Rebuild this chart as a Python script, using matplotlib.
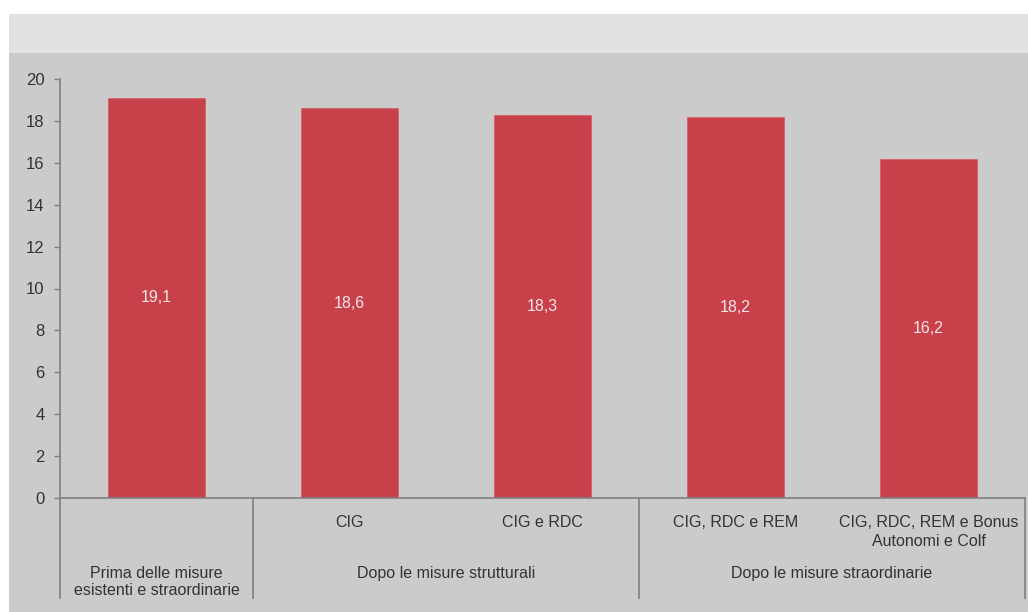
import matplotlib
matplotlib.use("Agg")
import matplotlib.pyplot as plt
from matplotlib.patches import Rectangle
from matplotlib.transforms import blended_transform_factory

plt.rcParams['font.family'] = ['Liberation Sans', 'DejaVu Sans']

# Data
values = [19.1, 18.6, 18.3, 18.2, 16.2]
value_labels = ["19,1", "18,6", "18,3", "18,2", "16,2"]
categories = ["", "CIG", "CIG e RDC", "CIG, RDC e REM",
              "CIG, RDC, REM e Bonus\nAutonomi e Colf"]
groups = ["Prima delle misure\nesistenti e straordinarie",
          "Dopo le misure strutturali",
          "Dopo le misure straordinarie"]
group_spans = [(0, 0), (1, 2), (3, 4)]
yticks = [0, 2, 4, 6, 8, 10, 12, 14, 16, 18, 20]

W, H = 1028, 612
fig = plt.figure(figsize=(W / 100, H / 100), dpi=100)
fig.patch.set_facecolor('white')

# Background panels
fig.patches.append(Rectangle((9 / W, 0), 1 - 9 / W, (H - 53) / H,
                             transform=fig.transFigure, facecolor='#cbcbcb',
                             edgecolor='none', zorder=-10))
fig.patches.append(Rectangle((9 / W, (H - 53) / H), 1 - 9 / W, 39 / H,
                             transform=fig.transFigure, facecolor='#e1e1e1',
                             edgecolor='none', zorder=-10))

ax_left, ax_right = 60 / W, 1025 / W
ax_bottom, ax_top = (H - 498) / H, (H - 79) / H
ax = fig.add_axes([ax_left, ax_bottom, ax_right - ax_left, ax_top - ax_bottom])
ax.set_facecolor('none')
ax.set_zorder(1)

x = list(range(len(values)))
bars = ax.bar(x, values, width=0.5, color='#c8404a', edgecolor='#d4606a',
              linewidth=0.6, zorder=2)

for xi, v, lab in zip(x, values, value_labels):
    ax.text(xi, v / 2, lab, ha='center', va='center', color='#f5e6e8',
            fontsize=11.5, zorder=3)

ax.set_xlim(-0.5, len(values) - 0.5)
ax.set_ylim(0, 20)
ax.set_yticks(yticks)
ax.set_yticklabels([str(t) for t in yticks], fontsize=12, color='#333333')
ax.tick_params(axis='y', direction='out', length=4, width=1, color='#808080', pad=7)
ax.tick_params(axis='x', length=0, labelbottom=False)

for s in ['top', 'right']:
    ax.spines[s].set_visible(False)
for s in ['left', 'bottom']:
    ax.spines[s].set_color('#808080')
    ax.spines[s].set_linewidth(1.2)

trans = blended_transform_factory(ax.transData, ax.transAxes)
axis_h_px = 498 - 79


def ypix(p):
    return (498 - p) / axis_h_px


# Group separator lines below the axis
for b in [-0.5, 0.5, 2.5, 4.5]:
    ax.plot([b, b], [0, ypix(598)], transform=trans, color='#808080',
            linewidth=1.2, clip_on=False, zorder=1)

# Category labels
for xi, c in zip(x, categories):
    if c:
        ax.text(xi, ypix(515), c, transform=trans, ha='center', va='top',
                fontsize=11.5, color='#333333', linespacing=1.3)

# Group labels
for (a, b), g in zip(group_spans, groups):
    ax.text((a + b) / 2, ypix(566), g, transform=trans, ha='center', va='top',
            fontsize=11.5, color='#333333', linespacing=1.2)

fig.savefig('out.png', dpi=100)
